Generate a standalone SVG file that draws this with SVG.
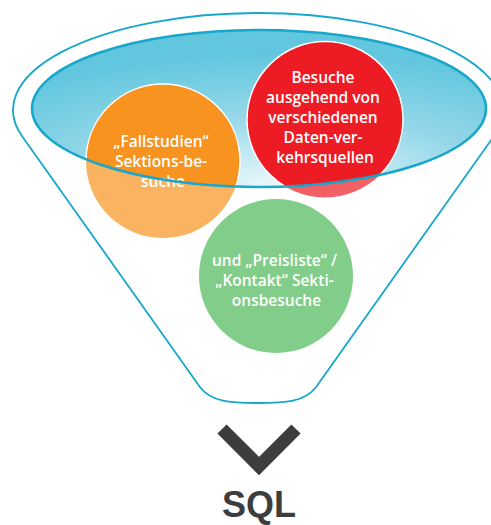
<svg xmlns="http://www.w3.org/2000/svg" width="491" height="525" viewBox="0 0 491 525">
  <style>
    .rim { fill: none; stroke: #16a7cb; }
    .label { font-family: "Open Sans", "Liberation Sans", sans-serif; font-weight: 600; font-size: 15.5px; fill: #ffffff; text-anchor: middle; }
    .soft { opacity: 0.7; }
    .edge { stroke: #ffffff; stroke-width: 1.5; }
    .orange { fill: #f7931e; }
    .red { fill: #ed1c24; }
    .green { fill: #4cb857; }
  </style>
  <defs>
    <radialGradient id="bowlFill" cx="0.55" cy="1" r="0.85" fx="0.55" fy="1">
      <stop offset="0" stop-color="#eef9fc"/>
      <stop offset="0.55" stop-color="#94d7e8"/>
      <stop offset="1" stop-color="#62c7de"/>
    </radialGradient>
    <clipPath id="bowlClip">
      <ellipse cx="259" cy="108.5" rx="227" ry="78.5"/>
    </clipPath>
  </defs>

  <!-- funnel outline -->
  <g id="funnel">
    <path class="rim" stroke-width="1.8" d="M199.9,387 L22.1,136.2 A245,97 0 1 1 493.9,136.2 L316.1,387 C305,402 285,403 258,403 S211,402 199.9,387 Z"/>
    <ellipse id="bowl" cx="259" cy="108.5" rx="227" ry="78.5" fill="url(#bowlFill)"/>
  </g>

  <g id="node-fallstudien">
    <circle class="orange soft" cx="163" cy="161" r="77"/>
    <circle class="orange edge" cx="163" cy="161" r="77" clip-path="url(#bowlClip)"/>
    <text class="label">
      <tspan x="163" y="147">„Fallstudien“</tspan>
      <tspan x="163" y="167">Sektions-be-</tspan>
      <tspan x="163" y="187">suche</tspan>
    </text>
  </g>

  <g id="node-traffic">
    <circle class="red soft" cx="325" cy="119.5" r="78"/>
    <circle class="red edge" cx="325" cy="119.5" r="78" clip-path="url(#bowlClip)"/>
    <text class="label">
      <tspan x="325" y="83">Besuche</tspan>
      <tspan x="325" y="103">ausgehend von</tspan>
      <tspan x="325" y="123">verschiedenen</tspan>
      <tspan x="325" y="143">Daten-ver-</tspan>
      <tspan x="325" y="163">kehrsquellen</tspan>
    </text>
  </g>

  <g id="node-pricing">
    <circle class="green soft" cx="276" cy="276" r="77"/>
    <text class="label">
      <tspan x="276.5" y="266">und „Preisliste“ /</tspan>
      <tspan x="276.5" y="286">„Kontakt“ Sekti-</tspan>
      <tspan x="276.5" y="306">onsbesuche</tspan>
    </text>
  </g>

  <!-- rim of the bowl, drawn over the circles -->
  <ellipse class="rim" stroke-width="2.6" cx="259" cy="108.5" rx="227" ry="78.5"/>

  <g id="connectors">
    <polyline points="222,429 259,466 296,429" fill="none" stroke="#3d3d3d" stroke-width="13" stroke-linejoin="miter"/>
  </g>

  <g id="node-sql">
    <text x="259" y="517" font-family="Liberation Sans, Arial, sans-serif" font-weight="700" font-size="36" fill="#3d3d3d" text-anchor="middle">SQL</text>
  </g>
</svg>
